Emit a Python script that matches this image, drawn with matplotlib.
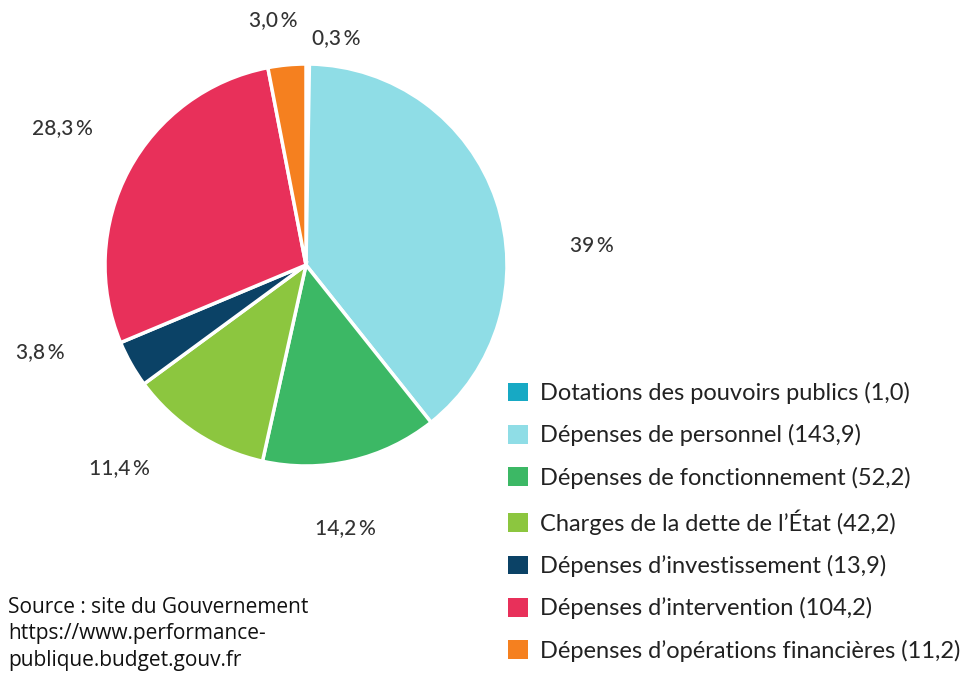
import matplotlib.pyplot as plt
from matplotlib.patches import Patch

# budget de l'État, en milliards d'euros
categories = [
    "Dotations des pouvoirs publics",
    "Dépenses de personnel",
    "Dépenses de fonctionnement",
    "Charges de la dette de l\u2019État",
    "Dépenses d\u2019investissement",
    "Dépenses d\u2019intervention",
    "Dépenses d\u2019opérations financières",
]
amounts = [1.0, 143.9, 52.2, 42.2, 13.9, 104.2, 11.2]
amount_labels = ["1,0", "143,9", "52,2", "42,2", "13,9", "104,2", "11,2"]
pct_labels = ["0,3 %", "39 %", "14,2 %", "11,4 %", "3,8 %", "28,3 %", "3,0 %"]
colors = ["#17a9c4", "#8fdde6", "#3cb865", "#8cc63f", "#0b4266", "#e8305a", "#f5801f"]

W, H = 961, 677
fig = plt.figure(figsize=(W / 100, H / 100), dpi=100)

# pie: centre (306, 265) px, radius 203 px
cx, cy, r = 306, 265, 203
ax = fig.add_axes([(cx - r) / W, 1 - (cy + r) / H, 2 * r / W, 2 * r / H])
ax.pie(amounts, colors=colors, startangle=90, counterclock=False,
       wedgeprops=dict(edgecolor="white", linewidth=2.5))
ax.set_xlim(-1.01, 1.01)
ax.set_ylim(-1.01, 1.01)
ax.set_aspect("equal")
ax.axis("off")

# percentage labels, placed by hand like the original
label_pos = [(336, 38), (592, 246), (345, 528), (119, 468), (40, 352), (62, 128), (273, 20)]
for txt, (px, py) in zip(pct_labels, label_pos):
    fig.text(px / W, 1 - py / H, txt.replace(" ", "\u2009"), ha="center", va="center",
             fontsize=15, family="Lato", fontweight="medium", color="#333333")

handles = [Patch(facecolor=c, edgecolor="none") for c in colors]
names = [f"{n} ({a})" for n, a in zip(categories, amount_labels)]
fig.legend(handles, names, loc="upper left", bbox_to_anchor=(508 / W, 1 - 382 / H),
           frameon=False, handlelength=0.85, handleheight=0.85, handletextpad=0.5,
           labelspacing=0.86, prop=dict(family="Lato", size=17), labelcolor="#222222",
           borderaxespad=0, borderpad=0)

source = "Source : site du Gouvernement\nhttps://www.performance-\npublique.budget.gouv.fr"
fig.text(8 / W, 1 - 597 / H, source, ha="left", va="top", fontsize=15,
         family="Open Sans", color="#111111", linespacing=1.33)

fig.savefig("out.png", dpi=100, facecolor="white")
